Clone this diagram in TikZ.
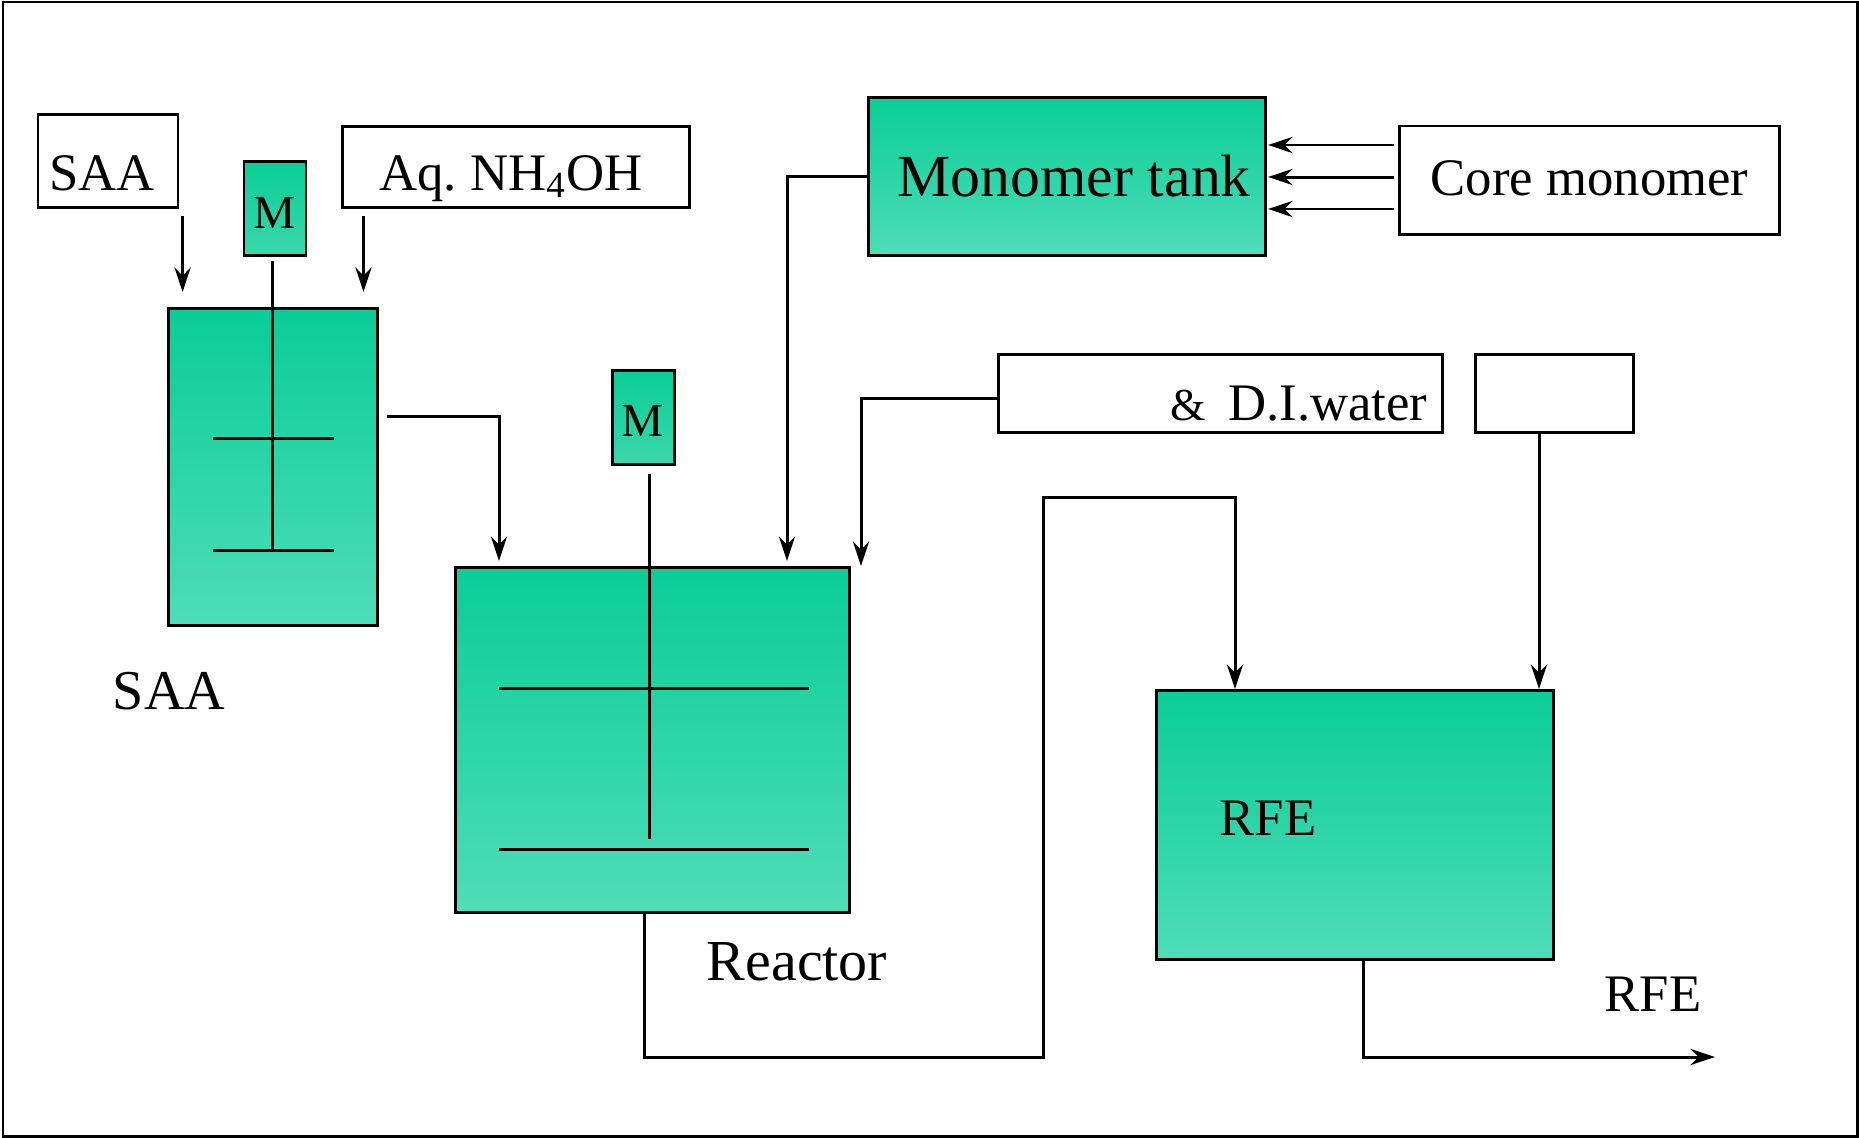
\documentclass[tikz,border=0pt]{standalone}
\usepackage{fontspec}
\setmainfont{Liberation Serif}
\usetikzlibrary{arrows.meta}
\definecolor{tanktop}{HTML}{0ACD97}
\definecolor{tankbot}{HTML}{4EDDB8}
\tikzset{
    plain/.style={draw, line width=0.85pt, inner sep=0pt},
    tank/.style={plain, top color=tanktop, bottom color=tankbot},
    motor/.style={plain, top color=tanktop, bottom color=tanktop!80!white},
    pipe/.style={line width=0.85pt},
    flow/.style={pipe, -{Stealth[length=7pt, width=4.6pt, inset=2.4pt]}},
    lbl/.style={inner sep=0pt, font=\fontsize{15}{18}\selectfont},
    lblbig/.style={inner sep=0pt, font=\fontsize{17}{20}\selectfont},
    lblm/.style={inner sep=0pt, font=\fontsize{13.5}{16}\selectfont},
}
\begin{document}
\begin{tikzpicture}[y=-1cm]
    \useasboundingbox (0,0) rectangle (18.59,11.37);
    \draw[line width=0.85pt] (0.03,0.02) rectangle (18.57,11.36);
    % feed boxes
    \node[plain, minimum width=1.40cm, minimum height=0.93cm] (saafeed) at (1.08,1.61) {};
    \node[plain, minimum width=3.47cm, minimum height=0.81cm] (aqfeed) at (5.16,1.67) {};
    \node[plain, minimum width=3.80cm, minimum height=1.08cm] (corefeed) at (15.89,1.80) {};
    \node[plain, minimum width=4.44cm, minimum height=0.78cm] (waterfeed) at (12.20,3.93) {};
    \node[plain, minimum width=1.58cm, minimum height=0.78cm] (blankfeed) at (15.545,3.93) {};
    \node[lbl, anchor=base] at (1.02,1.90) {SAA};
    \node[lbl, anchor=base] at (5.11,1.90) {Aq.\ NH\textsubscript{4}OH};
    \node[lbl, anchor=base] at (15.895,1.95) {Core monomer};
    \node[lbl, anchor=base east] at (14.28,4.20) {{\fontsize{13}{16}\selectfont\&} \,D.I.water};
    % tanks
    \node[tank, minimum width=3.97cm, minimum height=1.58cm] (montank) at (10.67,1.765) {};
    \node[tank, minimum width=2.09cm, minimum height=3.17cm] (saatank) at (2.73,4.67) {};
    \node[tank, minimum width=3.94cm, minimum height=3.45cm] (reactor) at (6.525,7.40) {};
    \node[tank, minimum width=3.97cm, minimum height=2.69cm] (rfetank) at (13.55,8.25) {};
    \node[motor, minimum width=0.62cm, minimum height=0.94cm] (motora) at (2.75,2.085) {};
    \node[motor, minimum width=0.62cm, minimum height=0.94cm] (motorb) at (6.435,4.17) {};
    \node[lblbig, anchor=base] at (10.74,1.96) {Monomer tank};
    \node[lblm, anchor=base] at (2.75,2.28) {M};
    \node[lblm, anchor=base] at (6.43,4.36) {M};
    \node[lbl, anchor=base, font=\fontsize{16}{19}\selectfont] at (1.69,7.09) {SAA};
    \node[lbl, anchor=base, font=\fontsize{16.5}{19}\selectfont] at (7.97,9.80) {Reactor};
    \node[lbl, anchor=base] at (12.68,8.35) {RFE};
    \node[lbl, anchor=base] at (16.53,10.11) {RFE};
    % free ends
    \coordinate (saaa) at (1.826,2.16);
    \coordinate (saab) at (1.826,2.92);
    \coordinate (aqa) at (3.635,2.16);
    \coordinate (aqb) at (3.635,2.92);
    \coordinate (saaexit) at (3.865,4.165);
    \coordinate (saaend) at (4.99,5.61);
    \coordinate (monend) at (7.87,5.61);
    \coordinate (waterout) at (9.98,3.98);
    \coordinate (waterend) at (8.61,5.66);
    \coordinate (corea) at (13.94,1.45);
    \coordinate (coreb) at (13.94,1.77);
    \coordinate (corec) at (13.94,2.09);
    \coordinate (monina) at (12.68,1.45);
    \coordinate (moninb) at (12.68,1.77);
    \coordinate (moninc) at (12.68,2.09);
    \coordinate (reactorout) at (6.44,9.13);
    \coordinate (bendb) at (6.44,10.57);
    \coordinate (bendc) at (10.43,10.57);
    \coordinate (bendd) at (10.43,4.97);
    \coordinate (bende) at (12.35,4.97);
    \coordinate (rfein) at (12.35,6.89);
    \coordinate (blankout) at (15.39,4.32);
    \coordinate (rfeinb) at (15.39,6.89);
    \coordinate (rfeexit) at (13.63,9.60);
    \coordinate (rfebend) at (13.63,10.57);
    \coordinate (rfeout) at (17.15,10.57);
    % stirrers
    \draw[pipe] (2.727,2.61) -- (2.727,5.505);
    \draw[pipe] (2.134,4.385) -- (3.34,4.385);
    \draw[pipe] (2.134,5.505) -- (3.34,5.505);
    \draw[pipe] (6.495,4.74) -- (6.495,8.39);
    \draw[pipe] (4.99,6.88) -- (8.09,6.88);
    \draw[pipe] (4.99,8.49) -- (8.09,8.49);
    % connectors
    \draw[flow] (saaa) -- (saab);
    \draw[flow] (aqa) -- (aqb);
    \draw[flow] (saaexit) -- (saaend |- saaexit) -- (saaend);
    \draw[flow] (montank.west) -- (monend |- montank.west) -- (monend);
    \draw[flow] (waterout) -- (waterend |- waterout) -- (waterend);
    \draw[flow] (corea) -- (monina);
    \draw[flow] (coreb) -- (moninb);
    \draw[flow] (corec) -- (moninc);
    \draw[flow] (reactorout) -- (bendb) -- (bendc) -- (bendd) -- (bende) -- (rfein);
    \draw[flow] (blankout) -- (rfeinb);
    \draw[flow] (rfeexit) -- (rfebend) -- (rfeout);
\end{tikzpicture}
\end{document}
